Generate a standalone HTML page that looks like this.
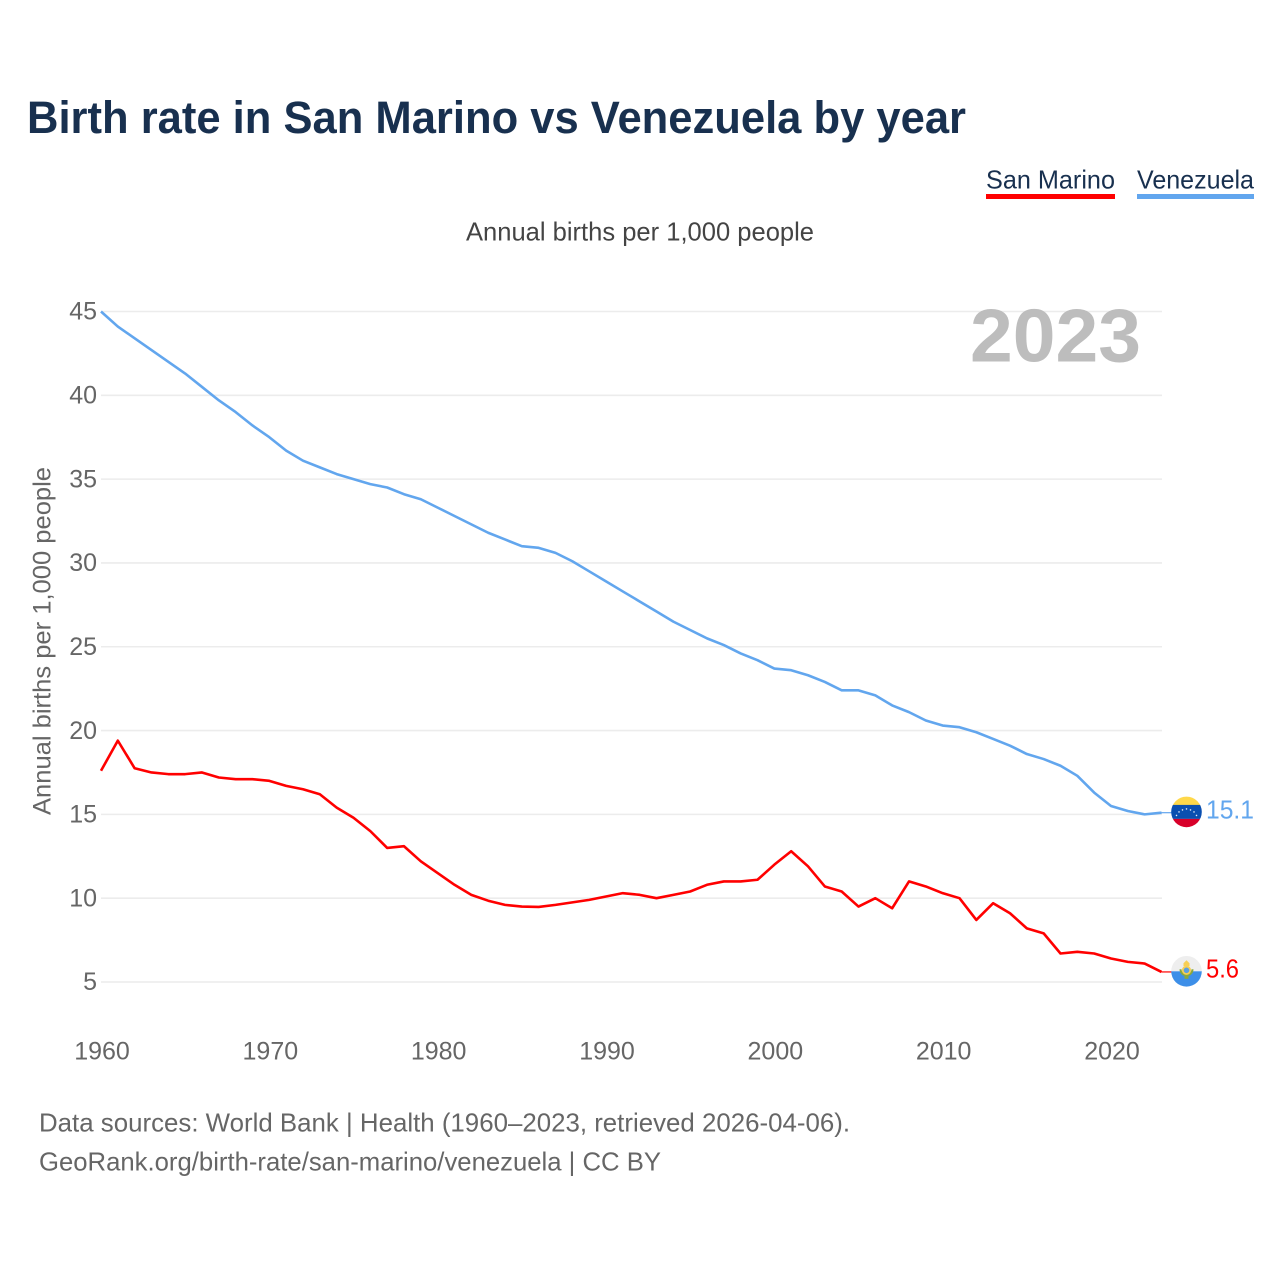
<!DOCTYPE html>
<html lang="en">
<head>
<meta charset="utf-8">
<title>Birth rate in San Marino vs Venezuela by year</title>
<style>
html,body{margin:0;padding:0;background:#fff;width:1280px;height:1280px;overflow:hidden}
svg{display:block}
text{font-family:"Liberation Sans",sans-serif}
</style>
</head>
<body>
<svg id="chart" xmlns="http://www.w3.org/2000/svg" width="1280" height="1280" viewBox="0 0 1280 1280">
  <defs>
    <clipPath id="flag-clip"><circle cx="0" cy="0" r="15.3"/></clipPath>
  </defs>
  <text x="27" y="133" font-size="45" font-weight="700" fill="#18304f" textLength="939" lengthAdjust="spacingAndGlyphs">Birth rate in San Marino vs Venezuela by year</text>

  <g>
    <text x="986" y="188.5" font-size="26" fill="#18304f" textLength="129" lengthAdjust="spacingAndGlyphs">San Marino</text>
    <rect x="986" y="194" width="129" height="5" fill="#ff0000"/>
    <text x="1137" y="188.5" font-size="26" fill="#18304f" textLength="117" lengthAdjust="spacingAndGlyphs">Venezuela</text>
    <rect x="1137" y="194" width="117" height="5" fill="#62a6ee"/>
  </g>

  <text x="466" y="240.5" font-size="26" fill="#444444" textLength="348" lengthAdjust="spacingAndGlyphs">Annual births per 1,000 people</text>
  <text transform="translate(50.5,815) rotate(-90)" x="0" y="0" font-size="25" fill="#666666" textLength="348" lengthAdjust="spacingAndGlyphs">Annual births per 1,000 people</text>

  <g id="grid"></g>
  <g id="y-ticks"></g>
  <g id="x-ticks"></g>

  <text x="970" y="361.5" font-size="75" font-weight="700" fill="#bdbdbd" textLength="171" lengthAdjust="spacingAndGlyphs">2023</text>

  <g id="series"></g>

  <g id="flag-venezuela">
    <g clip-path="url(#flag-clip)">
      <rect x="-16" y="-16" width="32" height="10" fill="#ffd84a"/>
      <rect x="-16" y="-7" width="32" height="14" fill="#0a4fb0"/>
      <rect x="-16" y="7" width="32" height="9" fill="#d8002a"/>
      <g fill="#e8eef8">
        <circle cx="-10" cy="3.5" r="0.8"/><circle cx="-7.5" cy="0" r="0.8"/><circle cx="-4" cy="-2" r="0.8"/>
        <circle cx="0" cy="-3" r="0.8"/><circle cx="4" cy="-2" r="0.8"/><circle cx="7.5" cy="0" r="0.8"/><circle cx="10" cy="3.5" r="0.8"/>
      </g>
    </g>
  </g>
  <g id="flag-san-marino">
    <g clip-path="url(#flag-clip)">
      <rect x="-16" y="-16" width="32" height="16" fill="#eeeeee"/>
      <rect x="-16" y="0" width="32" height="16" fill="#3d8fe8"/>
      <path d="M-7 -2 A7 7 0 0 0 7 -2 L5 -2 A5 5 0 0 1 -5 -2 Z" fill="#8aa83c"/>
      <circle cx="0" cy="-1" r="4.6" fill="#f7cf55"/>
      <circle cx="0" cy="-1" r="2.8" fill="#5b9fe0"/>
      <path d="M-3 -5 L-3 -8 L0 -11 L3 -8 L3 -5 Z" fill="#f7cf55"/>
      <rect x="-2" y="4.5" width="4" height="3" fill="#8aa83c"/>
    </g>
  </g>

  <text id="end-label-venezuela" x="1206" font-size="26" fill="#62a6ee" textLength="48" lengthAdjust="spacingAndGlyphs"></text>
  <text id="end-label-san-marino" x="1206" font-size="26" fill="#ff0000" textLength="33" lengthAdjust="spacingAndGlyphs"></text>

  <text x="39" y="1131.5" font-size="26" fill="#666666" textLength="811" lengthAdjust="spacingAndGlyphs">Data sources: World Bank | Health (1960–2023, retrieved 2026-04-06).</text>
  <text x="39" y="1170.5" font-size="26" fill="#666666" textLength="622" lengthAdjust="spacingAndGlyphs">GeoRank.org/birth-rate/san-marino/venezuela | CC BY</text>
</svg>
<script>
const startYear = 1960;
const yTickLabels = [5, 10, 15, 20, 25, 30, 35, 40, 45];
const xTickLabels = [1960, 1970, 1980, 1990, 2000, 2010, 2020];
const sanMarino = [17.6, 19.4, 17.75, 17.5, 17.4, 17.4, 17.5, 17.2, 17.1, 17.1,
  17.0, 16.7, 16.5, 16.2, 15.4, 14.8, 14.0, 13.0, 13.1, 12.2,
  11.5, 10.8, 10.2, 9.85, 9.6, 9.5, 9.48, 9.6, 9.75, 9.9,
  10.1, 10.3, 10.2, 10.0, 10.2, 10.4, 10.8, 11.0, 11.0, 11.1,
  12.0, 12.8, 11.9, 10.7, 10.4, 9.5, 10.0, 9.4, 11.0, 10.7,
  10.3, 10.0, 8.7, 9.7, 9.1, 8.2, 7.9, 6.7, 6.8, 6.7,
  6.4, 6.2, 6.1, 5.6];
const venezuela = [45.0, 44.1, 43.4, 42.7, 42.0, 41.3, 40.5, 39.7, 39.0, 38.2,
  37.5, 36.7, 36.1, 35.7, 35.3, 35.0, 34.7, 34.5, 34.1, 33.8,
  33.3, 32.8, 32.3, 31.8, 31.4, 31.0, 30.9, 30.6, 30.1, 29.5,
  28.9, 28.3, 27.7, 27.1, 26.5, 26.0, 25.5, 25.1, 24.6, 24.2,
  23.7, 23.6, 23.3, 22.9, 22.4, 22.4, 22.1, 21.5, 21.1, 20.6,
  20.3, 20.2, 19.9, 19.5, 19.1, 18.6, 18.3, 17.9, 17.3, 16.3,
  15.5, 15.2, 15.0, 15.1];

const NS = 'http://www.w3.org/2000/svg';
function xScale(year) { return 101 + (year - 1960) * (1010 / 60); }
function yScale(v) { return 982 - (v - 5) * (670.5 / 40); }

function make(tag, attrs, parent) {
  const el = document.createElementNS(NS, tag);
  for (const k in attrs) el.setAttribute(k, attrs[k]);
  parent.appendChild(el);
  return el;
}

const gridG = document.getElementById('grid');
const yG = document.getElementById('y-ticks');
const xG = document.getElementById('x-ticks');
const seriesG = document.getElementById('series');

yTickLabels.forEach(function (t) {
  const line = make('line', {x1: 101, x2: 1162, y1: yScale(t), y2: yScale(t), stroke: '#ececec', 'stroke-width': 1.6}, gridG);
  
  
  const label = make('text', {x: 97, y: yScale(t) + 8.2, 'text-anchor': 'end', 'font-size': 25, fill: '#666666'}, yG);
  
  
  label.textContent = t;
});

xTickLabels.forEach(function (t) {
  const label = make('text', {x: xScale(t) + 1, y: 1059.5, 'text-anchor': 'middle', 'font-size': 25, fill: '#666666'}, xG);
  
  
  label.textContent = t;
});

function drawSeries(values, color) {
  const pts = values.map(function (v, i) { return xScale(startYear + i).toFixed(2) + ',' + yScale(v).toFixed(2); });
  const path = make('polyline', {points: pts.join(' '), fill: 'none', stroke: color, 'stroke-width': 2.6, 'stroke-linejoin': 'round'}, seriesG);
  
  
  const last = values[values.length - 1];
  const lastX = xScale(startYear + values.length - 1);
  const conn = make('line', {x1: lastX, x2: lastX + 10, y1: yScale(last), y2: yScale(last), stroke: color, 'stroke-width': 1.2}, seriesG);
  
  
  return yScale(last);
}

const endSM = drawSeries(sanMarino, '#ff0000');
const endVE = drawSeries(venezuela, '#62a6ee');

document.getElementById('flag-venezuela').setAttribute('transform', 'translate(1186.5,' + (endVE - 0.8).toFixed(1) + ')');
document.getElementById('flag-san-marino').setAttribute('transform', 'translate(1186.5,' + (endSM - 0.6).toFixed(1) + ')');

const lblVE = document.getElementById('end-label-venezuela');
lblVE.setAttribute('y', (endVE + 6).toFixed(1));
lblVE.textContent = venezuela[venezuela.length - 1].toFixed(1);
const lblSM = document.getElementById('end-label-san-marino');
lblSM.setAttribute('y', (endSM + 5.5).toFixed(1));
lblSM.textContent = sanMarino[sanMarino.length - 1].toFixed(1);
</script>
</body>
</html>
